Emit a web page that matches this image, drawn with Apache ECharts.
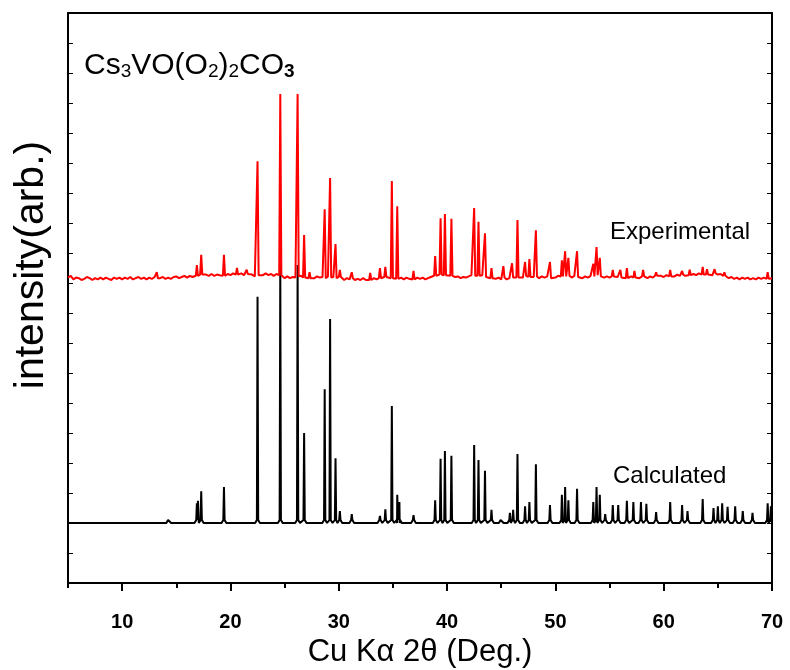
<!DOCTYPE html>
<html><head><meta charset="utf-8">
<script src="https://cdn.jsdelivr.net/npm/echarts@6/dist/echarts.min.js"></script>
<style>html,body{margin:0;padding:0;background:#fff}#c{width:790px;height:670px}</style>
</head><body><div id="c"></div>
<script>
// ---- data ----
const xTicksMajor = [10, 20, 30, 40, 50, 60, 70];
const xTicksMinor = [5, 15, 25, 35, 45, 55, 65];

// Experimental (red): noisy baseline [2θ, intensity]
const expBaseline = [
 [5,50.9],[5.25,51.2],[5.5,50.6],[5.75,50.9],[6,50.8],[6.25,50.5],[6.5,50.7],[6.75,51.0],[7,50.8],[7.25,50.5],
 [7.5,50.8],[7.75,50.6],[8,50.9],[8.25,50.6],[8.5,50.9],[8.75,50.7],[9,50.5],[9.25,50.9],[9.5,50.7],[9.75,50.9],
 [10,50.6],[10.25,50.9],[10.5,50.7],[10.75,51.0],[11,50.6],[11.25,50.8],[11.5,51.0],[11.75,50.7],[12,50.9],[12.25,50.6],
 [12.5,50.9],[12.75,50.7],[13,51.0],[13.25,50.8],[13.5,50.8],[13.75,51.0],[14,50.7],[14.25,50.9],[14.5,50.7],[14.75,51.0],
 [15,51.1],[15.25,50.8],[15.5,51.0],[15.75,51.2],[16,50.9],[16.25,51.2],[16.5,51.0],[16.75,51.3],[17,51.2],[17.25,51.4],
 [17.5,51.1],[17.75,51.4],[18,51.2],[18.25,51.5],[18.5,51.2],[18.75,51.4],[19,51.3],[19.25,51.5],[19.5,51.2],[19.75,51.5],
 [20,51.3],[20.25,51.6],[20.5,51.4],[20.75,51.3],[21,51.6],[21.25,51.3],[21.5,51.5],[21.75,51.2],[22,51.4],[22.25,51.1],
 [22.5,51.3],[22.75,51.5],[23,51.3],[23.25,51.6],[23.5,51.3],[23.75,51.5],[24,51.2],[24.25,51.5],[24.5,51.3],[24.75,51.0],
 [25,50.8],[25.25,51.1],[25.5,50.8],[25.75,51.0],[26,50.9],[26.25,51.1],[26.5,51.2],[26.75,50.9],[27,51.1],[27.25,50.8],
 [27.5,51.0],[27.75,50.8],[28,51.1],[28.25,50.9],[28.5,51.0],[28.75,50.8],[29,51.1],[29.25,50.9],[29.5,51.0],[29.75,50.8],
 [30,51.0],[30.25,50.7],[30.5,50.5],[30.75,50.8],[31,50.6],[31.25,50.8],[31.5,50.5],[31.75,50.7],[32,50.5],[32.25,50.8],
 [32.5,50.5],[32.75,50.7],[33,50.5],[33.25,50.8],[33.5,50.6],[33.75,50.8],[34,50.7],[34.25,51.0],[34.5,50.7],[34.75,50.9],
 [35,50.8],[35.25,51.0],[35.5,50.7],[35.75,50.9],[36,50.6],[36.25,50.9],[36.5,50.7],[36.75,50.9],[37,50.6],[37.25,50.9],
 [37.5,50.7],[37.75,50.9],[38,50.6],[38.25,50.8],[38.5,51.0],[38.75,51.1],[39,51.2],[39.25,51.3],[39.5,51.4],[39.75,51.3],
 [40,51.5],[40.25,51.3],[40.5,51.2],[40.75,51.0],[41,51.1],[41.25,50.8],[41.5,51.0],[41.75,50.9],[42,51.1],[42.25,51.3],
 [42.5,51.2],[42.75,51.4],[43,51.2],[43.25,51.3],[43.5,51.0],[43.75,51.1],[44,50.8],[44.25,51.0],[44.5,50.7],[44.75,50.9],
 [45,50.6],[45.25,50.9],[45.5,50.6],[45.75,50.8],[46,50.9],[46.25,51.1],[46.5,50.9],[46.75,51.1],[47,50.9],[47.25,51.2],
 [47.5,51.0],[47.75,51.2],[48,51.0],[48.25,51.1],[48.5,50.8],[48.75,51.1],[49,50.9],[49.25,51.1],[49.5,50.8],[49.75,51.0],
 [50,50.9],[50.25,51.2],[50.5,51.1],[50.75,51.3],[51,51.1],[51.25,51.2],[51.5,50.9],[51.75,51.2],[52,51.0],[52.25,51.1],
 [52.5,50.8],[52.75,51.1],[53,50.9],[53.25,51.2],[53.5,51.1],[53.75,51.3],[54,51.1],[54.25,51.2],[54.5,50.9],[54.75,51.1],
 [55,50.9],[55.25,51.1],[55.5,50.8],[55.75,51.0],[56,50.9],[56.25,51.1],[56.5,50.8],[56.75,51.0],[57,51.1],[57.25,50.9],
 [57.5,51.0],[57.75,50.8],[58,51.1],[58.25,50.9],[58.5,50.8],[58.75,51.1],[59,50.9],[59.25,51.2],[59.5,51.0],[59.75,51.2],
 [60,51.0],[60.25,51.3],[60.5,51.1],[60.75,51.3],[61,51.1],[61.25,51.4],[61.5,51.2],[61.75,51.4],[62,51.2],[62.25,51.5],
 [62.5,51.3],[62.75,51.5],[63,51.3],[63.25,51.6],[63.5,51.4],[63.75,51.6],[64,51.4],[64.25,51.6],[64.5,51.3],[64.75,51.6],
 [65,51.4],[65.25,51.5],[65.5,51.2],[65.75,51.0],[66,50.8],[66.25,51.0],[66.5,50.7],[66.75,50.9],[67,50.6],[67.25,50.9],
 [67.5,50.7],[67.75,50.9],[68,50.6],[68.25,50.8],[68.5,50.6],[68.75,50.9],[69,50.7],[69.25,50.9],[69.5,50.7],[69.75,50.9],
 [70,50.8]
];
// Experimental peaks [2θ, top intensity]
const expPeaks = [
 [13.2,51.8],[16.9,53.0],[17.3,54.7],[19.4,54.7],[20.6,52.5],[21.5,52.2],[22.5,70.3],[24.6,81.5],[26.2,81.5],
 [26.8,58.0],[27.3,51.8],[28.7,62.3],[29.2,67.5],[29.7,56.5],[30.1,52.2],[31.2,51.8],[32.9,51.7],[33.8,52.5],
 [34.3,52.7],[34.9,67.0],[35.4,62.8],[36.9,52.0],[38.9,54.5],[39.4,60.8],[39.8,61.5],[40.4,60.7],[42.5,62.5],
 [42.9,60.2],[43.5,58.3],[44.1,52.5],[45.2,52.8],[46.0,53.3],[46.5,60.5],[47.2,53.5],[47.6,54.0],[48.2,58.8],
 [49.5,53.5],[50.6,53.8],[50.9,55.3],[51.2,54.2],[52.0,55.3],[53.5,53.2],[53.8,56.0],[54.1,54.2],[55.3,52.2],
 [56.0,52.2],[56.6,52.5],[57.3,52.0],[58.1,52.2],[59.3,51.8],[60.6,52.2],[61.7,52.0],[62.4,52.2],[63.6,52.7],
 [64.0,52.3],[64.7,52.3],[65.6,51.8],[69.6,51.8]
];

// Calculated (black): flat baseline and peaks
const calcBaseline = [[5,10],[70,10]];
const calcPeaks = [
 [14.3,10.5],[16.9,13.3],[17.0,13.7],[17.3,15.3],[19.4,16.0],[22.5,47.7],[24.6,53.0],[26.2,53.0],[26.8,25.0],
 [28.7,32.3],[29.2,44.0],[29.7,20.8],[30.1,12.0],[31.2,11.5],[33.8,11.2],[34.3,12.3],[34.9,29.5],[35.4,14.7],
 [35.6,13.5],[36.9,11.3],[38.9,13.8],[39.4,20.7],[39.8,22.0],[40.4,21.2],[42.5,23.0],[42.9,20.5],[43.5,18.7],
 [44.1,12.2],[45.0,10.8],[45.8,11.7],[46.1,12.2],[46.5,21.5],[47.2,12.8],[47.6,13.5],[48.2,19.8],[49.5,13.0],
 [50.6,14.7],[50.9,16.0],[51.2,13.8],[52.0,15.7],[53.5,13.5],[53.8,16.0],[54.1,14.7],[54.6,11.5],[55.3,13.0],
 [55.8,13.0],[56.6,13.7],[57.2,13.5],[57.9,13.5],[58.4,13.2],[59.3,11.8],[60.6,13.5],[61.7,13.0],[62.2,12.0],
 [63.6,14.0],[64.6,12.5],[65.0,12.8],[65.4,13.3],[65.9,12.7],[66.6,12.8],[67.3,12.0],[68.2,11.7],[69.6,13.3],[69.9,12.8]
];

// ---- build line data from the arrays ----
function nearestBase(x) {
  let best = expBaseline[0];
  for (const p of expBaseline) if (Math.abs(p[0] - x) < Math.abs(best[0] - x)) best = p;
  return best[1];
}
const expData = [];
expBaseline.forEach(p => { if (!expPeaks.some(q => Math.abs(q[0] - p[0]) < 0.15)) expData.push(p); });
expPeaks.forEach(([x, h]) => { const b = nearestBase(x); expData.push([x - 0.1, b], [x, h], [x + 0.1, b]); });
expData.sort((a, b) => a[0] - b[0]);

const cb = calcBaseline[0][1];
const calcData = calcBaseline.slice();
calcPeaks.forEach(([x, h]) => calcData.push([x - 0.22, cb], [x - 0.06, cb + 0.5], [x, h], [x + 0.06, cb + 0.5], [x + 0.22, cb]));
calcData.sort((a, b) => a[0] - b[0]);

const FONT = '"Liberation Sans", Arial, sans-serif';
const chart = echarts.init(document.getElementById('c'), null, { renderer: 'canvas' });
const yBase = {
  type: 'value', min: 0, max: 95, interval: 5,
  axisLine: { show: true, onZero: false, lineStyle: { color: '#000', width: 2 } },
  axisTick: { show: true, inside: true, length: 5, lineStyle: { color: '#000', width: 1 } },
  axisLabel: { show: false }, splitLine: { show: false }
};
chart.setOption({
  animation: false,
  backgroundColor: '#fff',
  grid: { left: 68, right: 18, top: 13, bottom: 87, containLabel: false, outerBoundsMode: 'none' },
  xAxis: [
    { type: 'value', min: 5, max: 70, position: 'bottom',
      axisLine: { onZero: false, lineStyle: { color: '#000', width: 2 } },
      axisTick: { customValues: xTicksMajor, length: 8, lineStyle: { color: '#000', width: 2 } },
      axisLabel: { customValues: xTicksMajor, fontSize: 20, fontWeight: 'bold', color: '#000', fontFamily: FONT, margin: 29 },
      splitLine: { show: false },
      name: 'Cu Kα 2θ (Deg.)', nameLocation: 'middle', nameGap: 53,
      nameTextStyle: { fontSize: 31, color: '#000', fontFamily: FONT } },
    { type: 'value', min: 5, max: 70, position: 'bottom',
      axisLine: { show: false, onZero: false },
      axisTick: { customValues: xTicksMinor, length: 5, lineStyle: { color: '#000', width: 2 } },
      axisLabel: { show: false }, splitLine: { show: false } },
    { type: 'value', min: 5, max: 70, position: 'top',
      axisLine: { onZero: false, lineStyle: { color: '#000', width: 2 } },
      axisTick: { show: false }, axisLabel: { show: false }, splitLine: { show: false } }
  ],
  yAxis: [Object.assign({ position: 'left' }, yBase), Object.assign({ position: 'right' }, yBase)],
  series: [
    { type: 'line', data: calcData, showSymbol: false, symbol: 'none', lineStyle: { color: '#000', width: 2 }, z: 2 },
    { type: 'line', data: expData, showSymbol: false, symbol: 'none', lineStyle: { color: '#ff0000', width: 2 }, z: 3 }
  ],
  graphic: [
    { type: 'text', x: 32, y: 265, rotation: Math.PI / 2,
      style: { text: 'intensity(arb.)', fontSize: 41, fill: '#000', fontFamily: FONT, align: 'center', verticalAlign: 'middle' } },
    { type: 'text', x: 84, y: 45,
      style: { text: '{n|Cs}{s|3}{n|VO(O}{s|2}{n|)}{s|2}{n|CO}{b|3}', fontFamily: FONT, fill: '#000',
        rich: {
          n: { fontSize: 30, lineHeight: 36, verticalAlign: 'bottom', fontFamily: FONT, fill: '#000' },
          s: { fontSize: 19, lineHeight: 10, verticalAlign: 'bottom', fontFamily: FONT, fill: '#000' },
          b: { fontSize: 19, lineHeight: 10, verticalAlign: 'bottom', fontWeight: 'bold', fontFamily: FONT, fill: '#000' }
        } } },
    { type: 'text', x: 610, y: 232, style: { text: 'Experimental', fontSize: 24, fill: '#000', fontFamily: FONT, verticalAlign: 'middle' } },
    { type: 'text', x: 613, y: 476, style: { text: 'Calculated', fontSize: 24, fill: '#000', fontFamily: FONT, verticalAlign: 'middle' } }
  ]
});
</script></body></html>
